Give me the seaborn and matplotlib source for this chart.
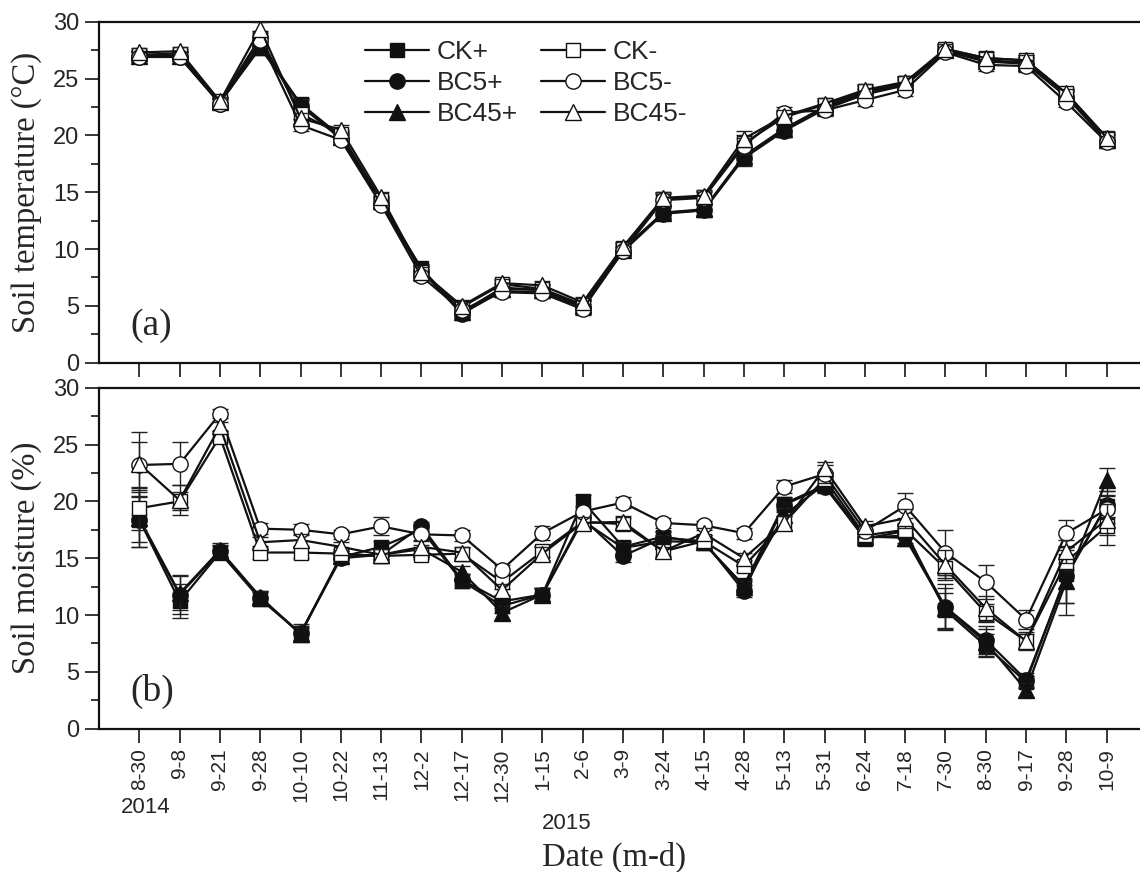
import matplotlib
matplotlib.use('Agg')
import matplotlib.pyplot as plt
from matplotlib.ticker import MultipleLocator
import seaborn as sns
import numpy as np

# data section
dates = ['8-30', '9-8', '9-21', '9-28', '10-10', '10-22', '11-13', '12-2', '12-17', '12-30',
         '1-15', '2-6', '3-9', '3-24', '4-15', '4-28', '5-13', '5-31', '6-24', '7-18',
         '7-30', '8-30', '9-17', '9-28', '10-9']
treatments = ['CK+', 'BC5+', 'BC45+', 'CK-', 'BC5-', 'BC45-']

# soil temperature (deg C)
temp_ck_p = [27.0, 27.0, 22.9, 27.7, 22.8, 19.9, 14.1, 8.3, 4.4, 6.6, 6.4, 5.0, 10.0, 13.2, 13.4,
             18.1, 20.5, 22.5, 23.8, 24.6, 27.5, 26.6, 26.4, 23.6, 19.6]
temp_bc5_p = [26.9, 26.9, 22.8, 27.9, 22.6, 19.7, 14.0, 8.1, 4.3, 6.3, 6.2, 4.9, 9.8, 13.1, 13.4,
              18.0, 20.4, 22.3, 23.6, 24.4, 27.4, 26.5, 26.3, 23.4, 19.5]
temp_bc45_p = [27.0, 27.0, 22.9, 28.0, 22.7, 19.9, 14.2, 8.2, 4.5, 6.5, 6.4, 5.0, 9.9, 13.2, 13.5,
               18.2, 20.6, 22.5, 23.7, 24.5, 27.5, 26.5, 26.4, 23.5, 19.6]
temp_ck_m = [27.1, 27.2, 23.0, 28.6, 21.9, 20.1, 14.3, 8.0, 4.9, 6.9, 6.5, 5.1, 10.1, 14.4, 14.6,
             19.3, 21.6, 22.7, 23.9, 24.6, 27.6, 26.8, 26.6, 23.7, 19.8]
temp_bc5_m = [26.9, 26.9, 22.8, 28.4, 20.9, 19.6, 13.9, 7.6, 4.6, 6.2, 6.1, 4.7, 9.8, 14.3, 14.5,
              19.1, 22.0, 22.2, 23.1, 24.0, 27.3, 26.2, 26.1, 22.9, 19.4]
temp_bc45_m = [27.3, 27.4, 23.0, 29.4, 21.5, 20.5, 14.6, 8.0, 5.0, 7.0, 6.8, 5.3, 10.2, 14.5, 14.7,
               19.7, 21.7, 22.8, 24.0, 24.7, 27.6, 26.8, 26.6, 23.7, 19.8]
temp_err = [0.4, 0.4, 0.4, 0.6, 0.5, 0.4, 0.4, 0.4, 0.4, 0.4, 0.4, 0.5, 0.4, 0.5, 0.5,
            0.7, 0.5, 0.5, 0.5, 0.5, 0.4, 0.5, 0.5, 0.4, 0.5]

# soil moisture (%)
moist_ck_p = [18.4, 11.2, 15.5, 11.4, 8.4, 15.1, 16.0, 17.5, 13.0, 10.8, 11.8, 20.0, 16.0, 16.9, 16.3,
              12.6, 19.8, 21.4, 16.7, 17.4, 10.4, 7.3, 4.1, 13.6, 19.6]
moist_bc5_p = [18.4, 11.8, 15.6, 11.5, 8.4, 15.0, 15.3, 17.8, 13.1, 11.2, 11.8, 18.5, 15.2, 16.8, 16.5,
               12.1, 19.7, 21.3, 16.8, 17.0, 10.7, 7.8, 4.3, 13.4, 19.7]
moist_bc45_p = [18.5, 11.9, 15.7, 11.6, 8.3, 15.2, 15.3, 15.8, 13.8, 10.2, 11.8, 18.3, 15.9, 16.5, 16.4,
                12.5, 18.8, 21.5, 16.9, 16.8, 10.6, 7.6, 3.4, 13.0, 21.9]
moist_ck_m = [19.4, 20.0, 25.7, 15.5, 15.5, 15.4, 15.2, 15.3, 15.4, 12.9, 15.6, 18.2, 18.0, 15.6, 16.5,
              14.3, 18.1, 22.0, 17.0, 17.5, 14.1, 10.2, 7.7, 14.7, 17.8]
moist_bc5_m = [23.2, 23.3, 27.7, 17.6, 17.5, 17.1, 17.8, 17.1, 17.0, 14.0, 17.2, 19.1, 19.9, 18.1, 17.9,
               17.2, 21.3, 22.4, 17.4, 19.6, 15.5, 12.9, 9.6, 17.2, 19.3]
moist_bc45_m = [23.3, 20.1, 26.6, 16.4, 16.6, 16.0, 15.3, 16.0, 15.5, 12.2, 15.4, 18.1, 18.2, 15.6, 17.2,
                15.0, 18.1, 22.9, 17.8, 18.5, 14.4, 10.6, 7.7, 15.6, 18.4]

err_ck_p = [2.0, 1.5, 0.6, 0.6, 0.8, 0.4, 0.5, 0.4, 0.6, 0.6, 0.6, 0.6, 0.5, 0.5, 0.5,
            0.6, 0.6, 0.6, 0.4, 0.6, 1.5, 1.0, 0.5, 2.5, 1.0]
err_bc5_p = [2.4, 1.7, 0.6, 0.6, 0.6, 0.4, 0.4, 0.4, 0.5, 0.6, 0.6, 0.5, 0.5, 0.5, 0.5,
             0.5, 0.6, 0.6, 0.5, 0.7, 2.0, 1.2, 0.6, 2.3, 1.2]
err_bc45_p = [2.5, 1.5, 0.6, 0.5, 0.6, 0.4, 0.4, 0.4, 0.5, 0.6, 0.6, 0.5, 0.5, 0.5, 0.5,
              0.5, 0.6, 0.6, 0.5, 0.7, 1.8, 1.2, 0.6, 3.0, 1.0]
err_ck_m = [1.9, 0.8, 0.5, 0.6, 0.5, 0.4, 0.4, 0.4, 0.5, 0.6, 0.5, 0.5, 0.5, 0.5, 0.5,
            0.5, 0.6, 0.6, 0.5, 0.6, 0.8, 0.8, 0.6, 0.7, 1.6]
err_bc5_m = [2.0, 1.9, 0.4, 0.5, 0.5, 0.4, 0.8, 0.5, 0.5, 0.4, 0.6, 0.5, 0.5, 0.4, 0.4,
             0.5, 0.6, 0.8, 0.5, 1.1, 2.0, 1.5, 0.8, 1.2, 1.2]
err_bc45_m = [2.8, 1.3, 0.4, 0.5, 0.5, 0.4, 0.5, 0.5, 0.5, 0.5, 0.6, 0.5, 0.5, 0.4, 0.5,
              0.5, 0.6, 0.6, 0.5, 0.8, 1.3, 1.1, 0.8, 1.0, 1.4]

temp_series = [temp_ck_p, temp_bc5_p, temp_bc45_p, temp_ck_m, temp_bc5_m, temp_bc45_m]
moist_series = [moist_ck_p, moist_bc5_p, moist_bc45_p, moist_ck_m, moist_bc5_m, moist_bc45_m]
moist_errs = [err_ck_p, err_bc5_p, err_bc45_p, err_ck_m, err_bc5_m, err_bc45_m]

# styles
markers = ['s', 'o', '^', 's', 'o', '^']
faces = ['#111111', '#111111', '#111111', 'white', 'white', 'white']
msizes = [10, 11, 11, 10, 11, 11]

sns.set_style('ticks')
plt.rcParams['font.family'] = ['Liberation Sans', 'DejaVu Sans']
plt.rcParams['xtick.direction'] = 'out'
plt.rcParams['ytick.direction'] = 'out'

W, H = 1140, 872
fig = plt.figure(figsize=(W / 100, H / 100), dpi=100)
left = 99 / W
width = (1147 - 99) / W
ax1 = fig.add_axes([left, (H - 362.7) / H, width, 341 / H])
ax2 = fig.add_axes([left, (H - 728.7) / H, width, 341 / H])

x = np.arange(len(dates))


def draw_panel(ax, series, errs):
    for i, name in enumerate(treatments):
        z = 3 + i
        ax.errorbar(x, series[i], yerr=errs[i], fmt='none', ecolor='#222222',
                    elinewidth=1.0, capsize=6, capthick=1.0, zorder=z)
        sns.lineplot(x=x, y=series[i], ax=ax, color='#111111', lw=1.6,
                     marker=markers[i], markersize=msizes[i], markerfacecolor=faces[i],
                     markeredgecolor='#111111', markeredgewidth=1.0,
                     estimator=None, sort=False, label=name, zorder=z, legend=False)
    ax.set_xlim(-1, 25)
    ax.set_ylim(0, 30)
    ax.yaxis.set_major_locator(MultipleLocator(5))
    ax.yaxis.set_minor_locator(MultipleLocator(2.5))
    ax.set_xticks(x)
    ax.tick_params(axis='both', which='major', length=10, width=1.3, pad=4)
    ax.tick_params(axis='y', labelsize=17)
    ax.tick_params(axis='x', labelsize=15)
    ax.tick_params(axis='y', which='minor', length=6, width=1.3)
    ax.spines['right'].set_visible(False)
    for s in ['left', 'bottom', 'top']:
        ax.spines[s].set_linewidth(1.6)
        ax.spines[s].set_color('#111111')


draw_panel(ax1, temp_series, [temp_err] * 6)
draw_panel(ax2, moist_series, moist_errs)

ax1.set_xticklabels([])
ax2.set_xticklabels(dates, rotation=90)

serif = ['Liberation Serif', 'DejaVu Serif']
ax1.set_ylabel('Soil temperature (°C)', fontsize=23.5, family=serif, labelpad=8)
ax2.set_ylabel('Soil moisture (%)', fontsize=23.5, family=serif, labelpad=8)
ax1.set_xlabel('')
ax2.set_xlabel('')

ax1.text(0.03, 0.11, '(a)', transform=ax1.transAxes, fontsize=27, family=serif, va='center')
ax2.text(0.03, 0.11, '(b)', transform=ax2.transAxes, fontsize=27, family=serif, va='center')

# year labels and axis title
ax2.text(0.15, -(807 - 728.7) / 341, '2014', transform=ax2.get_xaxis_transform(),
         ha='center', va='center', fontsize=16)
ax2.text(10.6, -(823 - 728.7) / 341, '2015', transform=ax2.get_xaxis_transform(),
         ha='center', va='center', fontsize=16)
fig.text(614 / W, 1 - 857 / H, 'Date (m-d)', ha='center', va='center', fontsize=23.5, family=serif)

handles = [ln for ln in ax1.lines if ln.get_label() in treatments]
fig.legend(handles, treatments, ncol=2, loc='upper left', bbox_to_anchor=(352 / W, 1 - 27 / H),
           frameon=False, fontsize=19, borderpad=0, handlelength=2.4, handletextpad=0.3,
           columnspacing=0.9, labelspacing=0.27)

plt.savefig('out.png', dpi=100)
